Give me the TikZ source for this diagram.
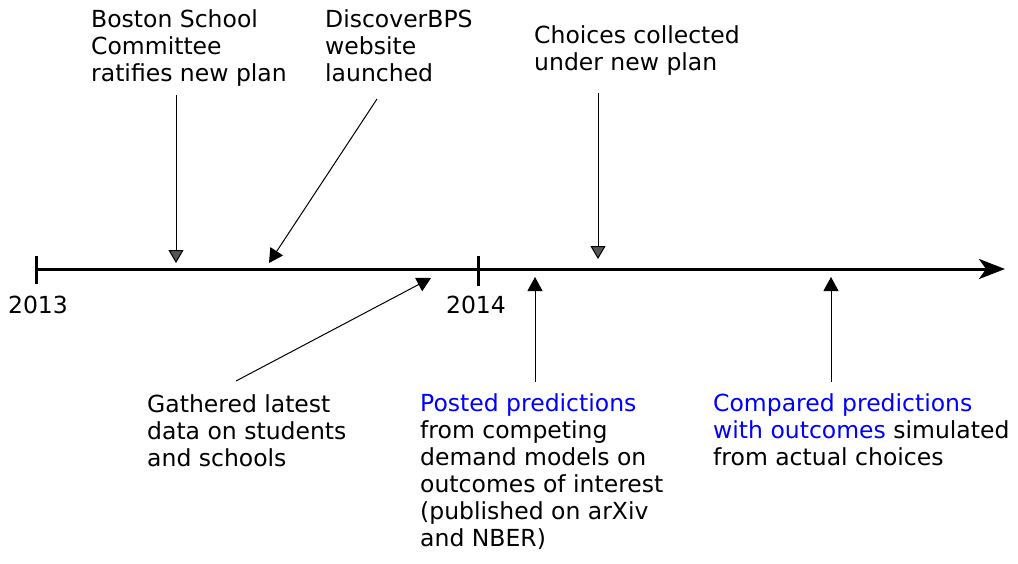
\documentclass[tikz,border=0pt]{standalone}
\usepackage{fontspec}
\setmainfont{DejaVu Sans}
\usetikzlibrary{arrows.meta}
\definecolor{hlblue}{RGB}{0,0,255}
\definecolor{headgray}{RGB}{85,85,85}
\begin{document}
\begin{tikzpicture}[x=1pt,y=-1pt,
  lbl/.style={anchor=north west,inner sep=0pt,align=left,font=\fontsize{23.5}{27}\selectfont},
  yr/.style={anchor=base,inner sep=0pt,font=\fontsize{23.5}{27}\selectfont},
  axis/.style={line width=3pt,-{Stealth[length=26pt,width=20pt,inset=7pt]}},
  tick/.style={line width=3pt},
  blackarr/.style={line width=1pt,-{Triangle[length=14pt,width=15pt]}},
  grayarr/.style={line width=1pt,-{Triangle[length=13pt,width=15pt,fill=headgray]}}]
\useasboundingbox (0,0) rectangle (1018,563);
% axis
\coordinate (a0) at (36,269);
\coordinate (a1) at (1005,269);
\draw[axis] (a0) -- (a1);
\coordinate (t13a) at (36,256); \coordinate (t13b) at (36,284);
\coordinate (t14a) at (478,256); \coordinate (t14b) at (478,286);
\draw[tick] (t13a) -- (t13b);
\draw[tick] (t14a) -- (t14b);
\node[yr] (y13) at (38,313) {2013};
\node[yr] (y14) at (476,313) {2014};
% labels
\node[lbl] (boston) at (91,9) {Boston School\\Committee\\ratifies new plan};
\node[lbl] (discover) at (325,9) {DiscoverBPS\\website\\launched};
\node[lbl] (choices) at (534,25) {Choices collected\\under new plan};
\node[lbl] (gathered) at (147,394) {Gathered latest\\data on students\\and schools};
\node[lbl] (posted) at (420,393) {\textcolor{hlblue}{Posted predictions}\\from competing\\demand models on\\outcomes of interest\\(published on arXiv\\and NBER)};
\node[lbl] (compared) at (713,393) {\textcolor{hlblue}{Compared predictions}\\\textcolor{hlblue}{with outcomes} simulated\\from actual choices};
% arrow coordinates
\coordinate (bs) at (176,95);  \coordinate (be) at (176,263);
\coordinate (ds) at (377,99);  \coordinate (de) at (269,263);
\coordinate (cs) at (598,93);  \coordinate (ce) at (598,259);
\coordinate (gs) at (236,381); \coordinate (ge) at (431,278);
\coordinate (ps) at (535,382); \coordinate (pe) at (535,277);
\coordinate (ms) at (831,382); \coordinate (me) at (831,277);
\draw[grayarr] (bs) -- (be);
\draw[blackarr] (ds) -- (de);
\draw[grayarr] (cs) -- (ce);
\draw[blackarr] (gs) -- (ge);
\draw[blackarr] (ps) -- (pe);
\draw[blackarr] (ms) -- (me);
\end{tikzpicture}
\end{document}
